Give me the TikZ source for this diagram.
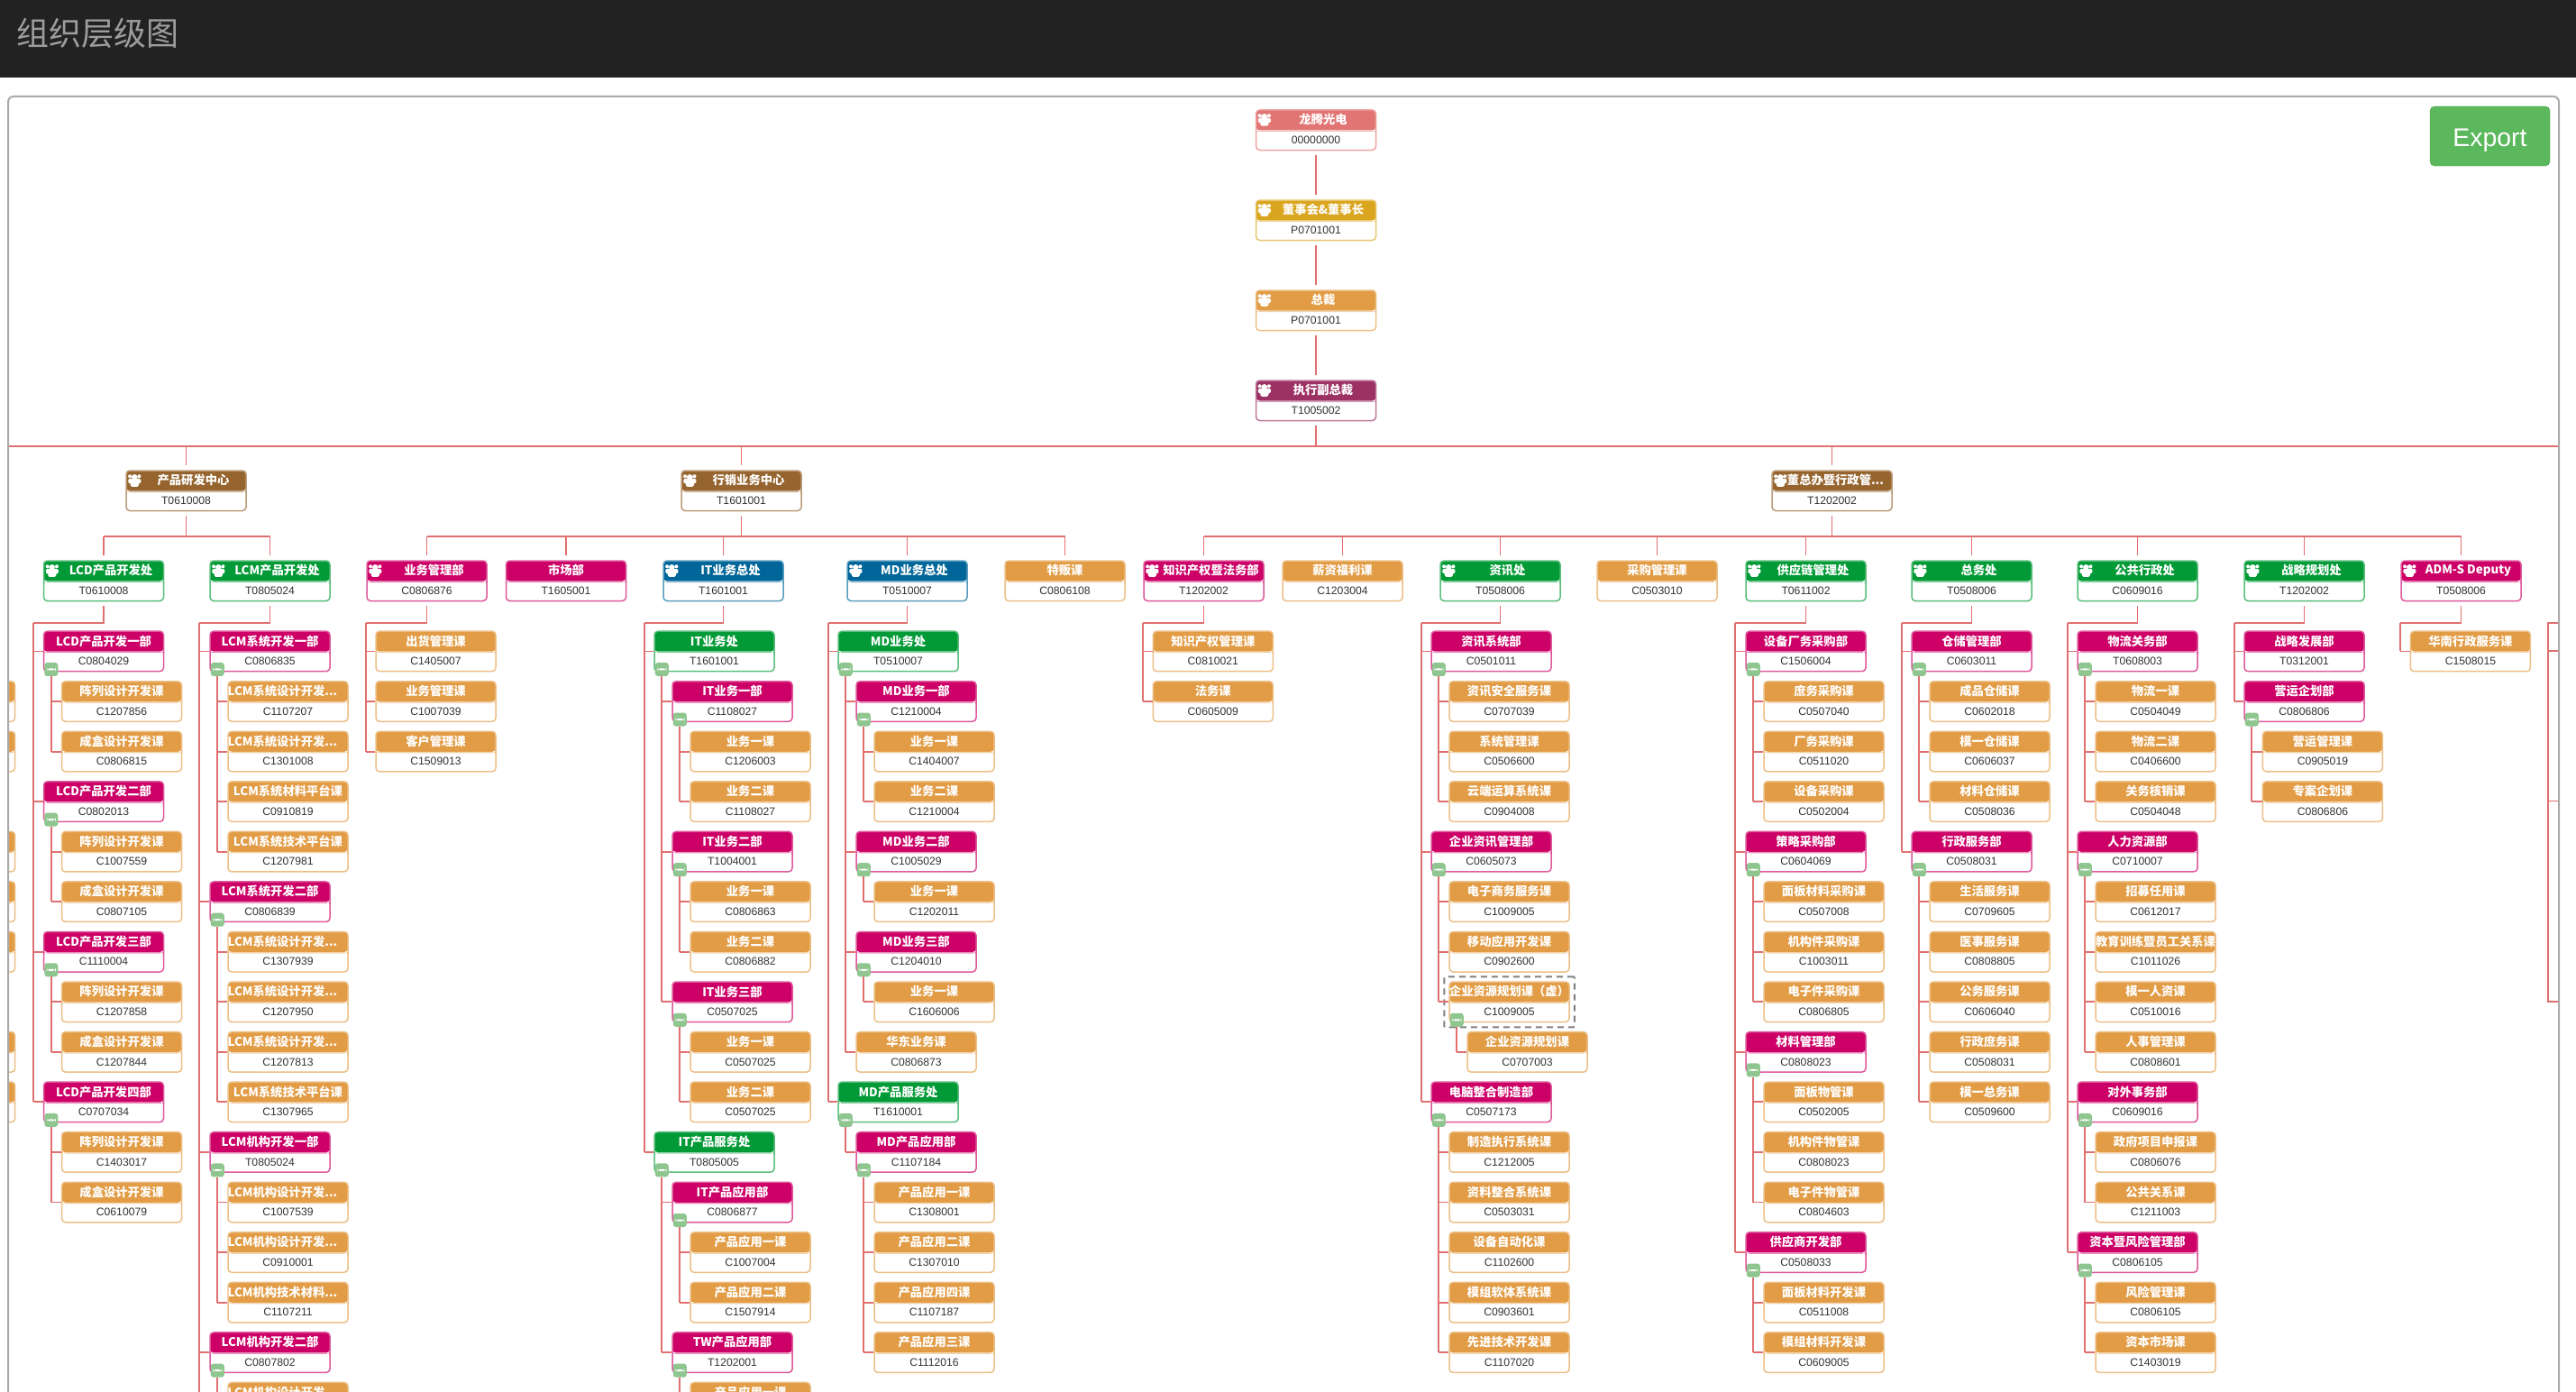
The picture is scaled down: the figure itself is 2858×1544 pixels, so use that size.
\documentclass[tikz,border=0pt]{standalone}
\usepackage{fontspec}
\setmainfont{Liberation Sans}
\newfontfamily\cjk{Noto Sans CJK SC}
\usetikzlibrary{arrows.meta, positioning, fit}
\definecolor{barblack}{HTML}{222222}
\definecolor{bartext}{HTML}{9D9D9D}
\definecolor{panelgray}{HTML}{AAAAAA}
\definecolor{linkred}{HTML}{E07070}
\definecolor{topred}{HTML}{E27573}
\definecolor{boardgold}{HTML}{DBA61F}
\definecolor{sectorange}{HTML}{E29C45}
\definecolor{vpplum}{HTML}{9C3163}
\definecolor{centerbrown}{HTML}{96652F}
\definecolor{bizblue}{HTML}{006699}
\definecolor{divgreen}{HTML}{029A36}
\definecolor{deptpink}{HTML}{CC0066}
\definecolor{foldgreen}{HTML}{8FC58F}
\definecolor{exportgreen}{HTML}{5CB85C}
\newcommand{\orgbox}[7][]{
    \node[unitbox=#3] (#2) at ({#4+66.5},{#5+22.25}) {};
    \node[ttl,#1] (#2t) at ([yshift=-11.6pt]#2.north) {#6};
    \node[cod] (#2c) at ([yshift=-34pt]#2.north) {#7};
}
\newcommand{\sectbox}[6][]{\orgbox[#1]{#2}{sectorange}{#3}{700.2+55.55*#4}{#5}{#6}}
\newcommand{\deptbox}[6][]{\orgbox[#1]{#2}{deptpink}{#3}{700.2+55.55*#4}{#5}{#6}}
\newcommand{\divbox}[6][]{\orgbox[#1]{#2}{divgreen}{#3}{700.2+55.55*#4}{#5}{#6}}
\newcommand{\people}[1]{
    \begin{scope}[shift={(#1.north west)}]
        \fill[white] (10,8) circle[radius=3.2] (4.8,7) circle[radius=2] (15.2,7) circle[radius=2];
        \fill[white, rounded corners=1.5pt] (5.5,11.5) rectangle (14.5,18.5) (3,9.5) rectangle (17,15);
    \end{scope}
}
\newcommand{\fold}[1]{\node[foldmark] (#1f) at ([xshift=9pt,yshift=3pt]#1.south west) {};}
\newcommand{\spine}[3]{
    \draw[link] (#1) -- (#1 |- #2);
    \foreach \kid in {#3} {\draw[link] (#1 |- \kid.west) -- (\kid.west);}
}
\newcommand{\fork}[3]{
    \coordinate (bus) at (0,#2);
    \draw[link, shorten <=5pt] (#1.south) -- (#1.south |- bus);
    \foreach \kid in {#3} {
        \draw[link] (#1.south |- bus) -- (\kid.north |- bus);
        \draw[link, shorten >=5pt] (\kid.north |- bus) -- (\kid.north);
    }
}
\newcommand{\stem}[2]{
    \coordinate (#1v) at (#2,691);
    \draw[link, shorten <=5pt] (#1.south) |- (#1v);
}
\begin{document}
\begin{tikzpicture}[
    x=1pt, y=-1pt,
    every node/.style={font=\cjk},
    unitbox/.style={rectangle, rounded corners=4pt, draw=#1!65, line width=1.5pt, fill=white, inner sep=0pt,
        minimum width=133pt, minimum height=44.5pt,
        path picture={
            \fill[#1] (path picture bounding box.north west) rectangle ([yshift=-22.5pt]path picture bounding box.north east);
            \fill[#1!45] ([yshift=-22.5pt]path picture bounding box.north west) rectangle ([yshift=-24pt]path picture bounding box.north east);
        }},
    ttl/.style={font=\cjk\bfseries\fontsize{13.3}{14}\selectfont, text=white, inner sep=0pt},
    cod/.style={font=\rmfamily\fontsize{12.2}{14}\selectfont, text=black!80, inner sep=0pt},
    foldmark/.style={rectangle, rounded corners=3pt, fill=foldgreen, inner sep=0pt, minimum size=15pt,
        path picture={\fill[white] ([xshift=-5pt,yshift=-1pt]path picture bounding box.center) rectangle ([xshift=5pt,yshift=1pt]path picture bounding box.center);}},
    link/.style={draw=linkred, line width=1.9pt},
]
\useasboundingbox (0,0) rectangle (2858,1544);
\fill[barblack] (0,0) rectangle (2858,86);
\node[font=\cjk\fontsize{36}{37}\selectfont, text=bartext, anchor=west, inner sep=0pt] (pagetitle) at (18,37) {组织层级图};
\coordinate (pagebottom) at (0,1560);
\begin{scope}
\clip[rounded corners=6pt] (9,107) rectangle (2839,1600);
% top of the tree
\orgbox[xshift=8pt]{dragon}{topred}{1393.5}{122}{龙腾光电}{00000000}
\orgbox[xshift=8pt]{board}{boardgold}{1393.5}{222}{董事会\&董事长}{P0701001}
\orgbox[xshift=8pt]{president}{sectorange}{1393.5}{322}{总裁}{P0701001}
\orgbox[xshift=8pt]{evp}{vpplum}{1393.5}{422}{执行副总裁}{T1005002}
\orgbox[xshift=8pt]{rd}{centerbrown}{140}{522}{产品研发中心}{T0610008}
\orgbox[xshift=8pt]{sales}{centerbrown}{756}{522}{行销业务中心}{T1601001}
\orgbox[xshift=4pt]{office}{centerbrown}{1966}{522}{董总办暨行政管...}{T1202002}
\orgbox[xshift=8pt]{lcd}{divgreen}{48.5}{622}{LCD产品开发处}{T0610008}
\orgbox[xshift=8pt]{lcm}{divgreen}{233}{622}{LCM产品开发处}{T0805024}
\orgbox[xshift=8pt]{biz}{deptpink}{407}{622}{业务管理部}{C0806876}
\orgbox{mkt}{deptpink}{561.5}{622}{市场部}{T1605001}
\orgbox[xshift=8pt]{ito}{bizblue}{736}{622}{IT业务总处}{T1601001}
\orgbox[xshift=8pt]{mdo}{bizblue}{940}{622}{MD业务总处}{T0510007}
\orgbox{spc}{sectorange}{1115}{622}{特贩课}{C0806108}
\orgbox[xshift=8pt]{ipr}{deptpink}{1269}{622}{知识产权暨法务部}{T1202002}
\orgbox{pay}{sectorange}{1423}{622}{薪资福利课}{C1203004}
\orgbox[xshift=8pt]{inf}{divgreen}{1598}{622}{资讯处}{T0508006}
\orgbox{pur}{sectorange}{1772}{622}{采购管理课}{C0503010}
\orgbox[xshift=8pt]{scm}{divgreen}{1937}{622}{供应链管理处}{T0611002}
\orgbox[xshift=8pt]{gen}{divgreen}{2121}{622}{总务处}{T0508006}
\orgbox[xshift=8pt]{adm}{divgreen}{2305}{622}{公共行政处}{C0609016}
\orgbox[xshift=8pt]{str}{divgreen}{2490}{622}{战略规划处}{T1202002}
\orgbox[xshift=8pt]{ads}{deptpink}{2664}{622}{ADM-S Deputy}{T0508006}
\foreach \who in {dragon,board,president,evp,rd,sales,office,lcd,lcm,biz,ito,mdo,ipr,inf,scm,gen,adm,str,ads} {\people{\who}}
% cut off by the left edge
\foreach \r in {1,2,4,5,6,8,9} {\sectbox{edge\r}{-116.3}{\r}{}{}}
% LCD
\deptbox{lcd1}{48.5}{0}{LCD产品开发一部}{C0804029}
\sectbox{lcd1a}{68.5}{1}{阵列设计开发课}{C1207856}
\sectbox{lcd1b}{68.5}{2}{成盒设计开发课}{C0806815}
\deptbox{lcd2}{48.5}{3}{LCD产品开发二部}{C0802013}
\sectbox{lcd2a}{68.5}{4}{阵列设计开发课}{C1007559}
\sectbox{lcd2b}{68.5}{5}{成盒设计开发课}{C0807105}
\deptbox{lcd3}{48.5}{6}{LCD产品开发三部}{C1110004}
\sectbox{lcd3a}{68.5}{7}{阵列设计开发课}{C1207858}
\sectbox{lcd3b}{68.5}{8}{成盒设计开发课}{C1207844}
\deptbox{lcd4}{48.5}{9}{LCD产品开发四部}{C0707034}
\sectbox{lcd4a}{68.5}{10}{阵列设计开发课}{C1403017}
\sectbox{lcd4b}{68.5}{11}{成盒设计开发课}{C0610079}
% LCM
\deptbox{lcm1}{233}{0}{LCM系统开发一部}{C0806835}
\sectbox[xshift=-6pt]{lcm1a}{253}{1}{LCM系统设计开发...}{C1107207}
\sectbox[xshift=-6pt]{lcm1b}{253}{2}{LCM系统设计开发...}{C1301008}
\sectbox{lcm1c}{253}{3}{LCM系统材料平台课}{C0910819}
\sectbox{lcm1d}{253}{4}{LCM系统技术平台课}{C1207981}
\deptbox{lcm2}{233}{5}{LCM系统开发二部}{C0806839}
\sectbox[xshift=-6pt]{lcm2a}{253}{6}{LCM系统设计开发...}{C1307939}
\sectbox[xshift=-6pt]{lcm2b}{253}{7}{LCM系统设计开发...}{C1207950}
\sectbox[xshift=-6pt]{lcm2c}{253}{8}{LCM系统设计开发...}{C1207813}
\sectbox{lcm2d}{253}{9}{LCM系统技术平台课}{C1307965}
\deptbox{lcm3}{233}{10}{LCM机构开发一部}{T0805024}
\sectbox[xshift=-6pt]{lcm3a}{253}{11}{LCM机构设计开发...}{C1007539}
\sectbox[xshift=-6pt]{lcm3b}{253}{12}{LCM机构设计开发...}{C0910001}
\sectbox[xshift=-6pt]{lcm3c}{253}{13}{LCM机构技术材料...}{C1107211}
\deptbox{lcm4}{233}{14}{LCM机构开发二部}{C0807802}
\sectbox[xshift=-6pt]{lcm4a}{253}{15}{LCM机构设计开发...}{}
% business office
\sectbox{biz1}{417}{0}{出货管理课}{C1405007}
\sectbox{biz2}{417}{1}{业务管理课}{C1007039}
\sectbox{biz3}{417}{2}{客户管理课}{C1509013}
% IT
\divbox{ito1}{726}{0}{IT业务处}{T1601001}
\deptbox{ito1x}{746}{1}{IT业务一部}{C1108027}
\sectbox{ito1xa}{766}{2}{业务一课}{C1206003}
\sectbox{ito1xb}{766}{3}{业务二课}{C1108027}
\deptbox{ito1y}{746}{4}{IT业务二部}{T1004001}
\sectbox{ito1ya}{766}{5}{业务一课}{C0806863}
\sectbox{ito1yb}{766}{6}{业务二课}{C0806882}
\deptbox{ito1z}{746}{7}{IT业务三部}{C0507025}
\sectbox{ito1za}{766}{8}{业务一课}{C0507025}
\sectbox{ito1zb}{766}{9}{业务二课}{C0507025}
\divbox{ito2}{726}{10}{IT产品服务处}{T0805005}
\deptbox{ito2x}{746}{11}{IT产品应用部}{C0806877}
\sectbox{ito2xa}{766}{12}{产品应用一课}{C1007004}
\sectbox{ito2xb}{766}{13}{产品应用二课}{C1507914}
\deptbox{ito2y}{746}{14}{TW产品应用部}{T1202001}
\sectbox{ito2ya}{766}{15}{产品应用一课}{}
% MD
\divbox{mdo1}{930}{0}{MD业务处}{T0510007}
\deptbox{mdo1x}{950}{1}{MD业务一部}{C1210004}
\sectbox{mdo1xa}{970}{2}{业务一课}{C1404007}
\sectbox{mdo1xb}{970}{3}{业务二课}{C1210004}
\deptbox{mdo1y}{950}{4}{MD业务二部}{C1005029}
\sectbox{mdo1ya}{970}{5}{业务一课}{C1202011}
\deptbox{mdo1z}{950}{6}{MD业务三部}{C1204010}
\sectbox{mdo1za}{970}{7}{业务一课}{C1606006}
\sectbox{mdo1w}{950}{8}{华东业务课}{C0806873}
\divbox{mdo2}{930}{9}{MD产品服务处}{T1610001}
\deptbox{mdo2x}{950}{10}{MD产品应用部}{C1107184}
\sectbox{mdo2xa}{970}{11}{产品应用一课}{C1308001}
\sectbox{mdo2xb}{970}{12}{产品应用二课}{C1307010}
\sectbox{mdo2xc}{970}{13}{产品应用四课}{C1107187}
\sectbox{mdo2xd}{970}{14}{产品应用三课}{C1112016}
% legal
\sectbox{ipr1}{1279.3}{0}{知识产权管理课}{C0810021}
\sectbox{ipr2}{1279.3}{1}{法务课}{C0605009}
% information
\deptbox{inf1}{1588}{0}{资讯系统部}{C0501011}
\sectbox{inf1a}{1608}{1}{资讯安全服务课}{C0707039}
\sectbox{inf1b}{1608}{2}{系统管理课}{C0506600}
\sectbox{inf1c}{1608}{3}{云端运算系统课}{C0904008}
\deptbox{inf2}{1588}{4}{企业资讯管理部}{C0605073}
\sectbox{inf2a}{1608}{5}{电子商务服务课}{C1009005}
\sectbox{inf2b}{1608}{6}{移动应用开发课}{C0902600}
\sectbox{inf2c}{1608}{7}{企业资源规划课（虚）}{C1009005}
\sectbox{inf2ca}{1628}{8}{企业资源规划课}{C0707003}
\deptbox{inf3}{1588}{9}{电脑整合制造部}{C0507173}
\sectbox{inf3a}{1608}{10}{制造执行系统课}{C1212005}
\sectbox{inf3b}{1608}{11}{资料整合系统课}{C0503031}
\sectbox{inf3c}{1608}{12}{设备自动化课}{C1102600}
\sectbox{inf3d}{1608}{13}{模组软体系统课}{C0903601}
\sectbox{inf3e}{1608}{14}{先进技术开发课}{C1107020}
\node[draw=gray, dashed, dash pattern=on 7pt off 5pt, line width=2pt, rounded corners=1pt, inner sep=5pt, fit=(inf2c)] (virtualmark) {};
% supply chain
\deptbox{scm1}{1937}{0}{设备厂务采购部}{C1506004}
\sectbox{scm1a}{1957}{1}{庶务采购课}{C0507040}
\sectbox{scm1b}{1957}{2}{厂务采购课}{C0511020}
\sectbox{scm1c}{1957}{3}{设备采购课}{C0502004}
\deptbox{scm2}{1937}{4}{策略采购部}{C0604069}
\sectbox{scm2a}{1957}{5}{面板材料采购课}{C0507008}
\sectbox{scm2b}{1957}{6}{机构件采购课}{C1003011}
\sectbox{scm2c}{1957}{7}{电子件采购课}{C0806805}
\deptbox{scm3}{1937}{8}{材料管理部}{C0808023}
\sectbox{scm3a}{1957}{9}{面板物管课}{C0502005}
\sectbox{scm3b}{1957}{10}{机构件物管课}{C0808023}
\sectbox{scm3c}{1957}{11}{电子件物管课}{C0804603}
\deptbox{scm4}{1937}{12}{供应商开发部}{C0508033}
\sectbox{scm4a}{1957}{13}{面板材料开发课}{C0511008}
\sectbox{scm4b}{1957}{14}{模组材料开发课}{C0609005}
% general affairs
\deptbox{gen1}{2121}{0}{仓储管理部}{C0603011}
\sectbox{gen1a}{2141}{1}{成品仓储课}{C0602018}
\sectbox{gen1b}{2141}{2}{模一仓储课}{C0606037}
\sectbox{gen1c}{2141}{3}{材料仓储课}{C0508036}
\deptbox{gen2}{2121}{4}{行政服务部}{C0508031}
\sectbox{gen2a}{2141}{5}{生活服务课}{C0709605}
\sectbox{gen2b}{2141}{6}{医事服务课}{C0808805}
\sectbox{gen2c}{2141}{7}{公务服务课}{C0606040}
\sectbox{gen2d}{2141}{8}{行政庶务课}{C0508031}
\sectbox{gen2e}{2141}{9}{模一总务课}{C0509600}
% public administration
\deptbox{adm1}{2305}{0}{物流关务部}{T0608003}
\sectbox{adm1a}{2325}{1}{物流一课}{C0504049}
\sectbox{adm1b}{2325}{2}{物流二课}{C0406600}
\sectbox{adm1c}{2325}{3}{关务核销课}{C0504048}
\deptbox{adm2}{2305}{4}{人力资源部}{C0710007}
\sectbox{adm2a}{2325}{5}{招募任用课}{C0612017}
\sectbox{adm2b}{2325}{6}{教育训练暨员工关系课}{C1011026}
\sectbox{adm2c}{2325}{7}{模一人资课}{C0510016}
\sectbox{adm2d}{2325}{8}{人事管理课}{C0808601}
\deptbox{adm3}{2305}{9}{对外事务部}{C0609016}
\sectbox{adm3a}{2325}{10}{政府项目申报课}{C0806076}
\sectbox{adm3b}{2325}{11}{公共关系课}{C1211003}
\deptbox{adm4}{2305}{12}{资本暨风险管理部}{C0806105}
\sectbox{adm4a}{2325}{13}{风险管理课}{C0806105}
\sectbox{adm4b}{2325}{14}{资本市场课}{C1403019}
% strategy
\deptbox{str1}{2490}{0}{战略发展部}{T0312001}
\deptbox{str2}{2490}{1}{营运企划部}{C0806806}
\sectbox{str2a}{2510.4}{2}{营运管理课}{C0905019}
\sectbox{str2b}{2510.4}{3}{专案企划课}{C0806806}
\sectbox{ads1}{2674.4}{0}{华南行政服务课}{C1508015}
% toggles
\foreach \who in {lcd1,lcd2,lcd3,lcd4,lcm1,lcm2,lcm3,lcm4,ito1,ito1x,ito1y,ito1z,ito2,ito2x,ito2y,mdo1,mdo1x,mdo1y,mdo1z,mdo2,mdo2x,inf1,inf2,inf2c,inf3,scm1,scm2,scm3,scm4,gen1,gen2,adm1,adm2,adm3,adm4,str2} {\fold{\who}}
% connectors
\draw[link, shorten <=5pt, shorten >=5pt] (dragon.south) -- (board.north);
\draw[link, shorten <=5pt, shorten >=5pt] (board.south) -- (president.north);
\draw[link, shorten <=5pt, shorten >=5pt] (president.south) -- (evp.north);
\coordinate (railleft) at (9,495);
\coordinate (railright) at (2839,495);
\draw[link] (railleft) -- (railright);
\fork{evp}{495}{rd,sales,office}
\fork{rd}{595}{lcd,lcm}
\fork{sales}{595}{biz,mkt,ito,mdo,spc}
\fork{office}{595}{ipr,pay,inf,pur,scm,gen,adm,str,ads}
\stem{lcd}{36.7}
\spine{lcdv}{lcd4.west}{lcd1,lcd2,lcd3,lcd4}
\spine{lcd1f.south}{lcd1b.west}{lcd1a,lcd1b}
\spine{lcd2f.south}{lcd2b.west}{lcd2a,lcd2b}
\spine{lcd3f.south}{lcd3b.west}{lcd3a,lcd3b}
\spine{lcd4f.south}{lcd4b.west}{lcd4a,lcd4b}
\stem{lcm}{220.7}
\spine{lcmv}{pagebottom}{lcm1,lcm2,lcm3,lcm4}
\spine{lcm1f.south}{lcm1d.west}{lcm1a,lcm1b,lcm1c,lcm1d}
\spine{lcm2f.south}{lcm2d.west}{lcm2a,lcm2b,lcm2c,lcm2d}
\spine{lcm3f.south}{lcm3c.west}{lcm3a,lcm3b,lcm3c}
\spine{lcm4f.south}{pagebottom}{lcm4a}
\stem{biz}{406}
\spine{bizv}{biz3.west}{biz1,biz2,biz3}
\stem{ito}{715}
\spine{itov}{ito2.west}{ito1,ito2}
\spine{ito1f.south}{ito1z.west}{ito1x,ito1y,ito1z}
\spine{ito1xf.south}{ito1xb.west}{ito1xa,ito1xb}
\spine{ito1yf.south}{ito1yb.west}{ito1ya,ito1yb}
\spine{ito1zf.south}{ito1zb.west}{ito1za,ito1zb}
\spine{ito2f.south}{ito2y.west}{ito2x,ito2y}
\spine{ito2xf.south}{ito2xb.west}{ito2xa,ito2xb}
\spine{ito2yf.south}{pagebottom}{ito2ya}
\stem{mdo}{919}
\spine{mdov}{mdo2.west}{mdo1,mdo2}
\spine{mdo1f.south}{mdo1w.west}{mdo1x,mdo1y,mdo1z,mdo1w}
\spine{mdo1xf.south}{mdo1xb.west}{mdo1xa,mdo1xb}
\spine{mdo1yf.south}{mdo1ya.west}{mdo1ya}
\spine{mdo1zf.south}{mdo1za.west}{mdo1za}
\spine{mdo2f.south}{mdo2x.west}{mdo2x}
\spine{mdo2xf.south}{mdo2xd.west}{mdo2xa,mdo2xb,mdo2xc,mdo2xd}
\stem{ipr}{1267.6}
\spine{iprv}{ipr2.west}{ipr1,ipr2}
\stem{inf}{1576.8}
\spine{infv}{inf3.west}{inf1,inf2,inf3}
\spine{inf1f.south}{inf1c.west}{inf1a,inf1b,inf1c}
\spine{inf2f.south}{inf2c.west}{inf2a,inf2b,inf2c}
\spine{inf2cf.south}{inf2ca.west}{inf2ca}
\spine{inf3f.south}{inf3e.west}{inf3a,inf3b,inf3c,inf3d,inf3e}
\stem{scm}{1925}
\spine{scmv}{scm4.west}{scm1,scm2,scm3,scm4}
\spine{scm1f.south}{scm1c.west}{scm1a,scm1b,scm1c}
\spine{scm2f.south}{scm2c.west}{scm2a,scm2b,scm2c}
\spine{scm3f.south}{scm3c.west}{scm3a,scm3b,scm3c}
\spine{scm4f.south}{scm4b.west}{scm4a,scm4b}
\stem{gen}{2110}
\spine{genv}{gen2.west}{gen1,gen2}
\spine{gen1f.south}{gen1c.west}{gen1a,gen1b,gen1c}
\spine{gen2f.south}{gen2e.west}{gen2a,gen2b,gen2c,gen2d,gen2e}
\stem{adm}{2293.6}
\spine{admv}{adm4.west}{adm1,adm2,adm3,adm4}
\spine{adm1f.south}{adm1c.west}{adm1a,adm1b,adm1c}
\spine{adm2f.south}{adm2d.west}{adm2a,adm2b,adm2c,adm2d}
\spine{adm3f.south}{adm3b.west}{adm3a,adm3b}
\spine{adm4f.south}{adm4b.west}{adm4a,adm4b}
\stem{str}{2479}
\spine{strv}{str2.west}{str1,str2}
\spine{str2f.south}{str2b.west}{str2a,str2b}
\stem{ads}{2662.6}
\spine{adsv}{ads1.west}{ads1}
% the tree that runs off to the right
\coordinate (nexttop) at (2827,691);
\coordinate (nexta) at (2839,722);
\coordinate (nextb) at (2839,888.5);
\coordinate (nextc) at (2839,1111);
\draw[link] (2839,691) -- (nexttop) |- (nextc);
\draw[link] (nexttop |- nexta) -- (nexta);
\draw[link] (nexttop |- nextb) -- (nextb);
\end{scope}
\draw[panelgray, line width=2pt, rounded corners=6pt] (9,107) rectangle (2839,1600);
\node[rectangle, rounded corners=5pt, fill=exportgreen, draw=exportgreen!85!black, text=white, font=\rmfamily\fontsize{28.4}{30}\selectfont, text depth=0pt, minimum width=133pt, minimum height=66pt, inner sep=0pt] (export) at (2762.5,151) {\raisebox{-4pt}{Export}};
\end{tikzpicture}
\end{document}
